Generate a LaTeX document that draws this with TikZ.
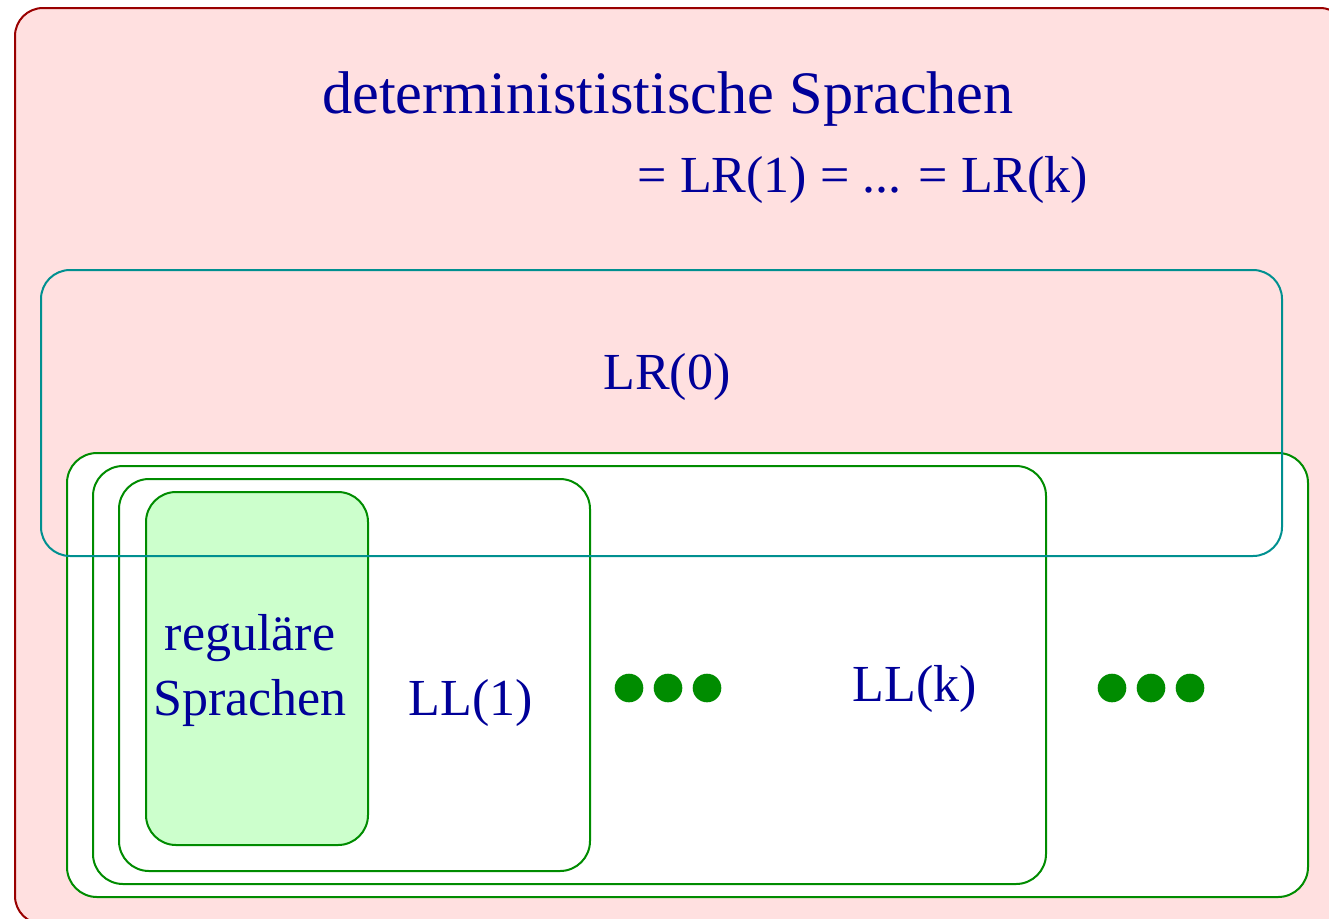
\documentclass[tikz,border=0pt]{standalone}
\usepackage{fontspec}
\setmainfont{Liberation Serif}
\definecolor{pinkfill}{HTML}{FFE0E0}
\definecolor{darkred}{HTML}{990000}
\definecolor{tealc}{HTML}{009090}
\definecolor{greenc}{HTML}{008C00}
\definecolor{lightg}{HTML}{CCFFCC}
\definecolor{navy}{HTML}{000099}
\tikzset{
  setbox/.style={draw=greenc, line width=2pt, rounded corners=30pt},
  lbl/.style={text=navy, inner sep=0pt, font=\fontsize{52}{65}\selectfont},
  dotc/.style={fill=greenc, draw=none},
}
\begin{document}
\begin{tikzpicture}[x=1pt,y=-1pt]
\useasboundingbox (0,0) rectangle (1329,918);
\clip (0,0) rectangle (1329,918);
% outer set
\draw[draw=darkred, fill=pinkfill, line width=2pt, rounded corners=28pt] (15,8) rectangle (1348,924);
\node[lbl, anchor=base, font=\fontsize{60.3}{72}\selectfont] (det) at (668,113) {determinististische Sprachen};
\node[lbl, anchor=base] (lrk) at (863,192) {= LR(1) = ... = LR(k)};
% green sets
\draw[setbox, fill=white] (67,453) rectangle (1308,897);
\draw[setbox, fill=white] (93,466) rectangle (1046,884);
\draw[setbox, fill=white] (119,479) rectangle (590,871);
\draw[setbox, fill=lightg] (146,492) rectangle (368,845);
% LR(0) outline on top
\draw[draw=tealc, line width=2pt, rounded corners=29pt] (41,270) rectangle (1282,556);
\node[lbl, anchor=base] (lr0) at (667,389) {LR(0)};
\node[lbl, anchor=base, align=center] (reg) at (250,715) {regul\"are\\Sprachen};
\node[lbl, anchor=base] (ll1) at (471,715) {LL(1)};
\node[lbl, anchor=base] (llk) at (915,701) {LL(k)};
% dots
\fill[dotc] (629,688) circle (14.3);
\fill[dotc] (668,688) circle (14.3);
\fill[dotc] (707,688) circle (14.3);
\fill[dotc] (1112,688) circle (14.3);
\fill[dotc] (1151,688) circle (14.3);
\fill[dotc] (1190,688) circle (14.3);
\end{tikzpicture}
\end{document}
